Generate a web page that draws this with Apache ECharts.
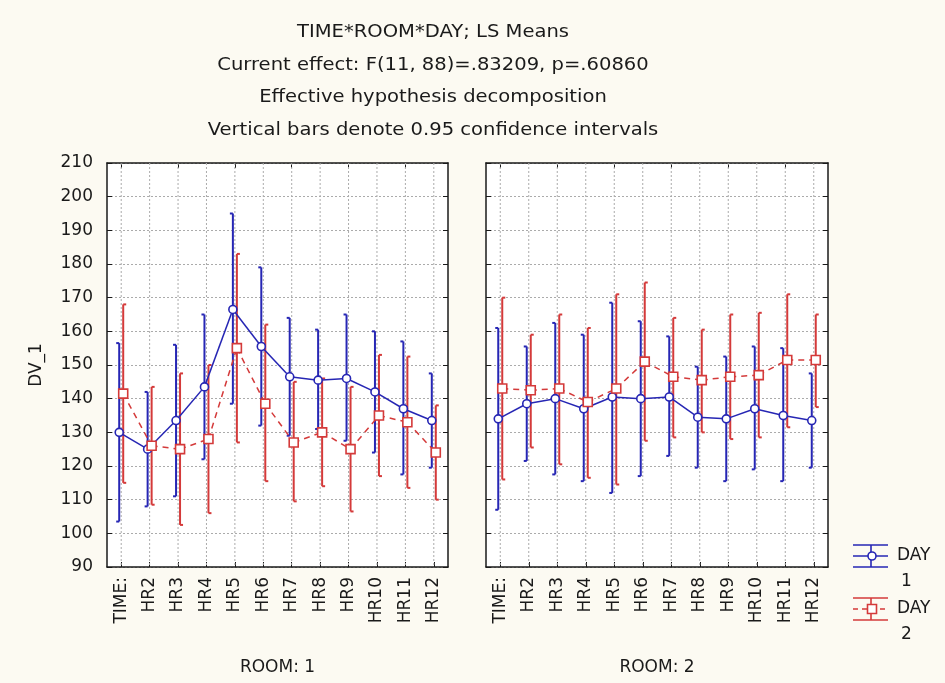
<!DOCTYPE html>
<html>
<head>
<meta charset="utf-8">
<script src="https://cdn.jsdelivr.net/npm/echarts@6/dist/echarts.min.js"></script>
<style>
  html, body { margin: 0; padding: 0; background: #fcfaf2; }
  #chart { width: 945px; height: 683px; }
</style>
</head>
<body>
<div id="chart"></div>
<script>
// Hour categories shared by both rooms
const hours = ['TIME:', 'HR2', 'HR3', 'HR4', 'HR5', 'HR6', 'HR7', 'HR8', 'HR9', 'HR10', 'HR11', 'HR12'];
const roomNames = ['ROOM: 1', 'ROOM: 2'];
const dayNames = [['DAY', '1'], ['DAY', '2']];
const yMin = 90, yMax = 210, yStep = 10;

const titleLines = [
  'TIME*ROOM*DAY; LS Means',
  'Current effect: F(11, 88)=.83209, p=.60860',
  'Effective hypothesis decomposition',
  'Vertical bars denote 0.95 confidence intervals'
];

// ROOM 1, DAY 1: LS means and 95% limits
const r1d1Mean  = [130, 125, 133.5, 143.5, 166.5, 155.5, 146.5, 145.5, 146, 142, 137, 133.5];
const r1d1Low   = [103.5, 108, 111, 122, 138.5, 132, 129, 131, 127.5, 124, 117.5, 119.5];
const r1d1High  = [156.5, 142, 156, 165, 195, 179, 164, 160.5, 165, 160, 157, 147.5];
// ROOM 1, DAY 2
const r1d2Mean  = [141.5, 126, 125, 128, 155, 138.5, 127, 130, 125, 135, 133, 124];
const r1d2Low   = [115, 108.5, 102.5, 106, 127, 115.5, 109.5, 114, 106.5, 117, 113.5, 110];
const r1d2High  = [168, 143.5, 147.5, 150, 183, 162, 145, 146, 143.5, 153, 152.5, 138];
// ROOM 2, DAY 1
const r2d1Mean  = [134, 138.5, 140, 137, 140.5, 140, 140.5, 134.5, 134, 137, 135, 133.5];
const r2d1Low   = [107, 121.5, 117.5, 115.5, 112, 117, 123, 119.5, 115.5, 119, 115.5, 119.5];
const r2d1High  = [161, 155.5, 162.5, 159, 168.5, 163, 158.5, 149.5, 152.5, 155.5, 155, 147.5];
// ROOM 2, DAY 2
const r2d2Mean  = [143, 142.5, 143, 139, 143, 151, 146.5, 145.5, 146.5, 147, 151.5, 151.5];
const r2d2Low   = [116, 125.5, 120.5, 116.5, 114.5, 127.5, 128.5, 130, 128, 128.5, 131.5, 137.5];
const r2d2High  = [170, 159, 165, 161, 171, 174.5, 164, 160.5, 165, 165.5, 171, 165];

const FONT = '"DejaVu Sans", "Liberation Sans", sans-serif';
const INK = '#1a1a1a';
const BLUE = '#2626b4';
const RED = '#d43a3a';
const GRIDC = '#ababab';

const chart = echarts.init(document.getElementById('chart'), null, { renderer: 'canvas' });

const gridBoxes = [
  { left: 107, top: 163, width: 341, height: 404 },
  { left: 486, top: 163, width: 342, height: 404 }
];

const frameLine = { show: true, onZero: false, lineStyle: { color: INK, width: 1.5 } };
const innerTick = { show: true, inside: true, length: 5, lineStyle: { color: INK, width: 1 } };

function xAxesFor(gi) {
  return [
    {
      type: 'category', gridIndex: gi, data: hours, position: 'bottom', boundaryGap: true,
      axisLine: frameLine,
      axisTick: Object.assign({ alignWithLabel: true }, innerTick),
      axisLabel: { rotate: 90, interval: 0, margin: 10, fontSize: 17, fontFamily: FONT, color: INK },
      splitLine: { show: false },
      name: roomNames[gi], nameLocation: 'middle', nameGap: 92,
      nameTextStyle: { fontSize: 17, fontFamily: FONT, color: INK }
    },
    {
      type: 'category', gridIndex: gi, data: hours, position: 'top', boundaryGap: true,
      axisLine: frameLine,
      axisTick: Object.assign({ alignWithLabel: true }, innerTick),
      axisLabel: { show: false },
      splitLine: { show: false }
    }
  ];
}

function yAxesFor(gi) {
  return [
    {
      type: 'value', gridIndex: gi, position: 'left', min: yMin, max: yMax, interval: yStep,
      axisLine: frameLine, axisTick: innerTick,
      axisLabel: { show: gi === 0, margin: 14, fontSize: 17, fontFamily: FONT, color: INK },
      splitLine: { show: true, lineStyle: { color: GRIDC, type: [2, 2], width: 1 } },
      name: gi === 0 ? 'DV_1' : '', nameLocation: 'middle', nameGap: 62, nameRotate: 90,
      nameTextStyle: { fontSize: 17, fontFamily: FONT, color: INK }
    },
    {
      type: 'value', gridIndex: gi, position: 'right', min: yMin, max: yMax, interval: yStep,
      axisLine: frameLine, axisTick: innerTick,
      axisLabel: { show: false }, splitLine: { show: false }
    }
  ];
}

// dotted vertical guides at every hour
function hourGuides(gi) {
  return {
    type: 'custom', xAxisIndex: gi * 2, yAxisIndex: gi * 2, z: 1, silent: true,
    data: hours.map((h, i) => [i, yMin]),
    renderItem(params, api) {
      const i = api.value(0);
      const a = api.coord([i, yMax]);
      const b = api.coord([i, yMin]);
      return { type: 'line', shape: { x1: a[0], y1: a[1], x2: b[0], y2: b[1] },
               style: { stroke: GRIDC, lineWidth: 1, lineDash: [2, 2] } };
    }
  };
}

// confidence-interval whiskers
function intervalBars(gi, low, high, color, off) {
  return {
    type: 'custom', xAxisIndex: gi * 2, yAxisIndex: gi * 2, z: 2, silent: true,
    data: low.map((l, i) => [i, l, high[i]]),
    encode: { x: 0, y: [1, 2] },
    renderItem(params, api) {
      const i = api.value(0);
      const lo = api.coord([i, api.value(1)]);
      const hi = api.coord([i, api.value(2)]);
      const x = lo[0] + off;
      const cap = off < 0 ? -3 : 3;
      const st = { stroke: color, lineWidth: 2 };
      return { type: 'group', children: [
        { type: 'line', shape: { x1: x, y1: lo[1], x2: x, y2: hi[1] }, style: st },
        { type: 'line', shape: { x1: x, y1: lo[1], x2: x + cap, y2: lo[1] }, style: st },
        { type: 'line', shape: { x1: x, y1: hi[1], x2: x + cap, y2: hi[1] }, style: st }
      ] };
    }
  };
}

// connecting line between consecutive means
function meanLine(gi, mean, color, off, dash) {
  return {
    type: 'custom', xAxisIndex: gi * 2, yAxisIndex: gi * 2, z: 3, silent: true,
    data: mean.map((v, i) => [i, v]),
    renderItem(params, api) {
      const i = params.dataIndex;
      if (i >= mean.length - 1) return { type: 'group', children: [] };
      const a = api.coord([i, mean[i]]);
      const b = api.coord([i + 1, mean[i + 1]]);
      return { type: 'line',
               shape: { x1: a[0] + off, y1: a[1], x2: b[0] + off, y2: b[1] },
               style: { stroke: color, lineWidth: 1.5, lineDash: dash } };
    }
  };
}

// hollow mean markers
function meanMarks(gi, mean, color, off, shape) {
  return {
    type: 'custom', xAxisIndex: gi * 2, yAxisIndex: gi * 2, z: 4, silent: true,
    data: mean.map((v, i) => [i, v]),
    renderItem(params, api) {
      const p = api.coord([api.value(0), api.value(1)]);
      const x = p[0] + off, y = p[1];
      const st = { fill: '#ffffff', stroke: color, lineWidth: 1.6 };
      if (shape === 'circle') {
        return { type: 'circle', shape: { cx: x, cy: y, r: 4 }, style: st };
      }
      return { type: 'rect', shape: { x: x - 4.5, y: y - 4.5, width: 9, height: 9 }, style: st };
    }
  };
}

const panels = [
  { gi: 0, d1: [r1d1Mean, r1d1Low, r1d1High], d2: [r1d2Mean, r1d2Low, r1d2High] },
  { gi: 1, d1: [r2d1Mean, r2d1Low, r2d1High], d2: [r2d2Mean, r2d2Low, r2d2High] }
];

const series = [];
panels.forEach(p => {
  series.push(hourGuides(p.gi));
  series.push(intervalBars(p.gi, p.d1[1], p.d1[2], BLUE, -2));
  series.push(intervalBars(p.gi, p.d2[1], p.d2[2], RED, 2));
  series.push(meanLine(p.gi, p.d1[0], BLUE, -2, null));
  series.push(meanLine(p.gi, p.d2[0], RED, 2, [6, 5]));
  series.push(meanMarks(p.gi, p.d1[0], BLUE, -2, 'circle'));
  series.push(meanMarks(p.gi, p.d2[0], RED, 2, 'square'));
});

// title block (slightly widened lettering)
const titleGraphics = titleLines.map((t, i) => ({
  type: 'text', x: 433, y: 33 + i * 32.4, scaleX: 1.15,
  style: { text: t, fill: INK, font: '17px ' + FONT, align: 'center', verticalAlign: 'middle' }
}));

// legend key: error-bar glyphs with labels
function legendKey(top, color, dashed, marker, label) {
  const mid = top + 11;
  const st = { stroke: color, lineWidth: 1.6 };
  const kids = [
    { type: 'line', shape: { x1: 853, y1: top, x2: 888, y2: top }, style: st },
    { type: 'line', shape: { x1: 853, y1: top + 22, x2: 888, y2: top + 22 }, style: st },
    { type: 'line', shape: { x1: 853, y1: mid, x2: 888, y2: mid },
      style: { stroke: color, lineWidth: 1.6, lineDash: dashed ? [5, 4] : null } },
    { type: 'line', shape: { x1: 871, y1: top, x2: 871, y2: top + 22 }, style: st },
    marker === 'circle'
      ? { type: 'circle', shape: { cx: 872, cy: mid, r: 4 }, style: { fill: '#fff', stroke: color, lineWidth: 1.6 } }
      : { type: 'rect', shape: { x: 867.5, y: mid - 4.5, width: 9, height: 9 }, style: { fill: '#fff', stroke: color, lineWidth: 1.6 } },
    { type: 'text', x: 897, y: mid, style: { text: label[0], fill: INK, font: '17px ' + FONT, verticalAlign: 'middle' } },
    { type: 'text', x: 901, y: mid + 26, style: { text: label[1], fill: INK, font: '17px ' + FONT, verticalAlign: 'middle' } }
  ];
  return { type: 'group', children: kids };
}

chart.setOption({
  backgroundColor: '#fcfaf2',
  animation: false,
  grid: gridBoxes.map(b => Object.assign({ show: true, backgroundColor: '#ffffff', borderWidth: 0,
                                           containLabel: false, outerBoundsMode: 'none' }, b)),
  xAxis: xAxesFor(0).concat(xAxesFor(1)),
  yAxis: yAxesFor(0).concat(yAxesFor(1)),
  series: series,
  graphic: titleGraphics.concat([
    legendKey(545, BLUE, false, 'circle', dayNames[0]),
    legendKey(598, RED, true, 'square', dayNames[1])
  ])
});
</script>
</body>
</html>
